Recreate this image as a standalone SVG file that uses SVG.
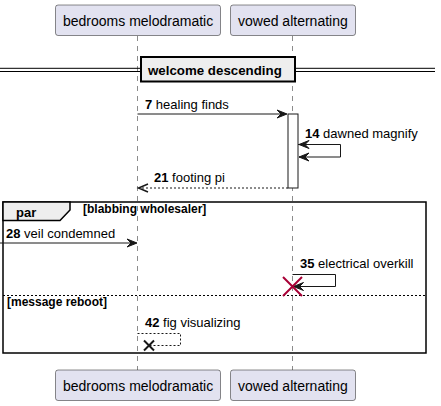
<svg xmlns="http://www.w3.org/2000/svg" width="441" height="406" viewBox="0 0 441 406">
<style>
text{font-family:"Liberation Sans",Arial,sans-serif;fill:#000}
.pbox{fill:#E2E2F0;stroke:#181818;stroke-width:0.5}
.ptxt{font-size:14px}
.life{stroke:#181818;stroke-width:0.5;stroke-dasharray:5,5}
.msg{stroke:#181818;stroke-width:1;fill:none}
.dmsg{stroke:#181818;stroke-width:1;fill:none;stroke-dasharray:2,2}
.head{fill:#181818;stroke:#181818;stroke-width:1}
.mt{font-size:13px}
.num{font-weight:bold}
.guard{font-size:12px;font-weight:bold}
</style>
<rect width="441" height="406" fill="#FFFFFF"/>
<g id="lifelines">
<line class="life" x1="137.5" y1="36" x2="137.5" y2="370"/>
<line class="life" x1="292.5" y1="36" x2="292.5" y2="370"/>
</g>
<g id="divider">
<line x1="0" y1="68.3" x2="435" y2="68.3" stroke="#000" stroke-width="1"/>
<line x1="0" y1="71.5" x2="435" y2="71.5" stroke="#000" stroke-width="1"/>
<rect x="141" y="57" width="154" height="24.5" fill="#EEEEEE" stroke="#000" stroke-width="2"/>
<text x="148" y="75" font-size="13.3" font-weight="bold">welcome descending</text>
</g>
<g id="activation">
<rect x="288" y="114" width="10" height="74" fill="#FFFFFF" stroke="#181818" stroke-width="1"/>
</g>
<g id="frame">
<rect x="3" y="202" width="423" height="151" fill="none" stroke="#000" stroke-width="1.5"/>
<path d="M3,202 L70,202 L70,210 L60,220.5 L3,220.5 Z" fill="#EEEEEE" stroke="#000" stroke-width="1.5"/>
<text x="16" y="217" font-size="13" font-weight="bold">par</text>
<text class="guard" x="83" y="213">[blabbing wholesaler]</text>
<line x1="3" y1="295.5" x2="426" y2="295.5" stroke="#000" stroke-width="1" stroke-dasharray="2,2"/>
<text class="guard" x="7" y="306">[message reboot]</text>
</g>
<g id="connectors">
<g id="m7">
<line class="msg" x1="137.5" y1="114" x2="286" y2="114"/>
<polygon class="head" points="287,114 277,110 281,114 277,118"/>
<text class="mt" x="145" y="108.5"><tspan class="num">7</tspan> healing finds</text>
</g>
<g id="m14">
<polyline class="msg" points="298,144.5 340.5,144.5 340.5,157 299,157"/>
<polygon class="head" points="299,157 309,153 305,157 309,161"/>
<polygon class="head" points="299,144.5 309,140.5 305,144.5 309,148.5"/>
<text class="mt" x="305" y="138"><tspan class="num">14</tspan> dawned magnify</text>
</g>
<g id="m21">
<line class="dmsg" x1="288" y1="188" x2="139" y2="188"/>
<polyline points="148,184 138.5,188 148,192" fill="none" stroke="#181818" stroke-width="1.5"/>
<text class="mt" x="154" y="182"><tspan class="num">21</tspan> footing pi</text>
</g>
<g id="m28">
<line class="msg" x1="0" y1="243" x2="136" y2="243"/>
<polygon class="head" points="137,243 127,239 131,243 127,247"/>
<text class="mt" x="6" y="238"><tspan class="num">28</tspan> veil condemned</text>
</g>
<g id="m35">
<polyline class="msg" points="292.5,274.5 335.5,274.5 335.5,286.5 293.5,286.5"/>
<polygon class="head" points="293.5,286.5 303.5,282.5 299.5,286.5 303.5,290.5"/>
<text class="mt" x="300" y="268"><tspan class="num">35</tspan> electrical overkill</text>
<path d="M283,277 L302,296 M302,277 L283,296" stroke="#A80036" stroke-width="2" fill="none"/>
</g>
<g id="m42">
<polyline class="dmsg" points="137.5,333.5 180.5,333.5 180.5,345.5 150,345.5"/>
<path d="M144,340.5 L154,350.5 M154,340.5 L144,350.5" stroke="#181818" stroke-width="2" fill="none"/>
<text class="mt" x="145" y="327"><tspan class="num">42</tspan> fig visualizing</text>
</g>
</g>
<g id="p1-top">
<rect class="pbox" x="55.5" y="5" width="165" height="30.5" rx="2.5"/>
<text class="ptxt" x="63" y="26">bedrooms melodramatic</text>
</g>
<g id="p2-top">
<rect class="pbox" x="230.5" y="5" width="125" height="30.5" rx="2.5"/>
<text class="ptxt" x="238" y="26">vowed alternating</text>
</g>
<g id="p1-bottom">
<rect class="pbox" x="55.5" y="370" width="165" height="30.5" rx="2.5"/>
<text class="ptxt" x="63" y="391">bedrooms melodramatic</text>
</g>
<g id="p2-bottom">
<rect class="pbox" x="230.5" y="370" width="125" height="30.5" rx="2.5"/>
<text class="ptxt" x="238" y="391">vowed alternating</text>
</g>
</svg>
